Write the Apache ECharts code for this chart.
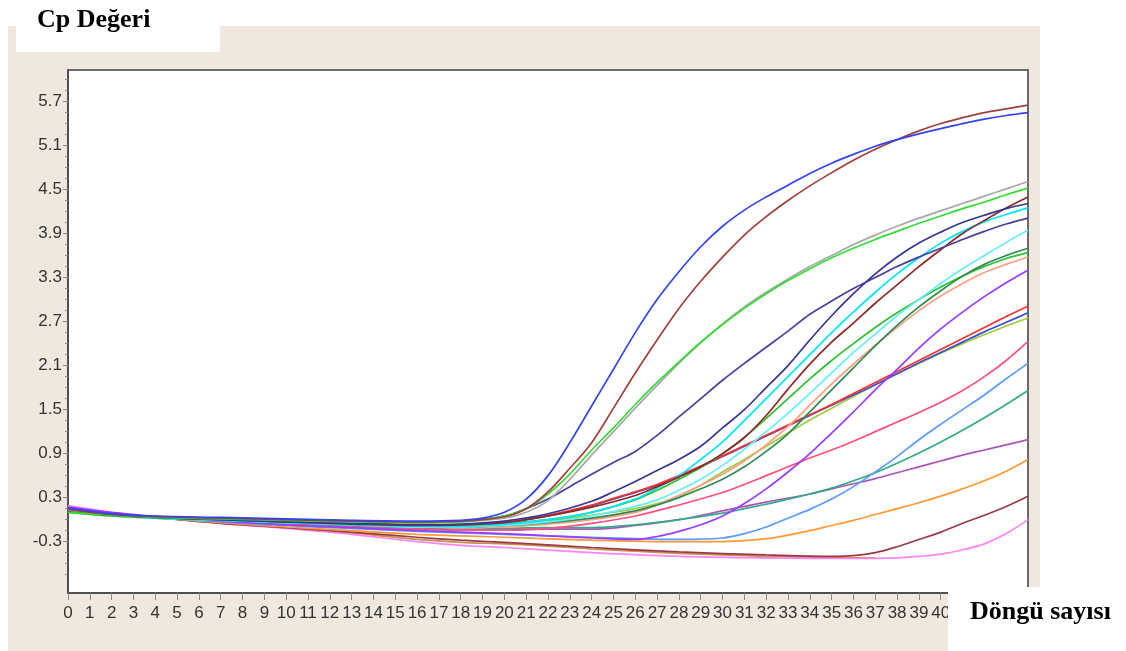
<!DOCTYPE html>
<html>
<head>
<meta charset="utf-8">
<script src="https://cdn.jsdelivr.net/npm/echarts@6/dist/echarts.min.js"></script>
<style>
  html, body { margin: 0; padding: 0; background: #ffffff; }
  #chart { width: 1126px; height: 651px; }
</style>
</head>
<body>
<div id="chart"></div>
<script>
// Amplification curves: fluorescence value per PCR cycle, one array of [cycle, value] per sample
const sampleBlue      = [[0,0.16],[2,0.08],[4,0.05],[7,0.03],[10,0.01],[13,-0.01],[16,-0.02],[18,-0.01],[19,0.02],[20,0.1],[21,0.28],[22,0.6],[23,1.05],[24,1.55],[25,2.05],[26,2.55],[27,3.0],[28,3.38],[29,3.72],[30,4.0],[31,4.22],[32,4.4],[33,4.56],[34,4.72],[35,4.86],[36,4.98],[37,5.09],[38,5.18],[39,5.26],[40,5.33],[41,5.4],[42,5.46],[43,5.51],[44,5.55]];
const sampleBrown     = [[0,0.14],[2,0.07],[4,0.04],[7,0.02],[10,0.0],[13,-0.02],[16,-0.03],[18,-0.02],[20,0.04],[21,0.15],[22,0.38],[23,0.7],[24,1.05],[25,1.52],[26,2.0],[27,2.45],[28,2.88],[29,3.25],[30,3.58],[31,3.88],[32,4.13],[33,4.35],[34,4.55],[35,4.73],[36,4.9],[37,5.05],[38,5.18],[39,5.3],[40,5.4],[41,5.48],[42,5.55],[43,5.6],[44,5.65]];
const sampleGray      = [[0,0.13],[2,0.07],[4,0.04],[7,0.02],[10,0.0],[13,-0.02],[16,-0.04],[18,-0.03],[20,0.02],[21,0.1],[22,0.26],[23,0.55],[24,0.88],[25,1.2],[26,1.52],[27,1.83],[28,2.13],[29,2.41],[30,2.67],[31,2.9],[32,3.1],[33,3.28],[34,3.45],[35,3.6],[36,3.75],[37,3.88],[38,4.0],[39,4.11],[40,4.21],[41,4.31],[42,4.41],[43,4.51],[44,4.61]];
const sampleLime      = [[0,0.1],[2,0.06],[4,0.03],[7,0.01],[10,-0.01],[13,-0.03],[16,-0.04],[18,-0.03],[20,0.05],[21,0.15],[22,0.35],[23,0.62],[24,0.95],[25,1.25],[26,1.57],[27,1.87],[28,2.15],[29,2.42],[30,2.66],[31,2.88],[32,3.08],[33,3.26],[34,3.42],[35,3.57],[36,3.7],[37,3.82],[38,3.93],[39,4.04],[40,4.14],[41,4.24],[42,4.33],[43,4.43],[44,4.52]];
const sampleSlate     = [[0,0.14],[2,0.08],[4,0.04],[7,0.02],[10,0.0],[13,-0.02],[16,-0.04],[18,-0.02],[20,0.05],[21,0.15],[22,0.28],[23,0.45],[24,0.62],[25,0.78],[26,0.93],[27,1.15],[28,1.4],[29,1.65],[30,1.9],[31,2.13],[32,2.35],[33,2.57],[34,2.8],[35,2.98],[36,3.15],[37,3.3],[38,3.45],[39,3.58],[40,3.7],[41,3.82],[42,3.93],[43,4.03],[44,4.11]];
const sampleNavy      = [[0,0.12],[2,0.06],[4,0.03],[7,0.0],[10,-0.03],[13,-0.05],[16,-0.07],[18,-0.06],[20,-0.02],[22,0.08],[24,0.25],[25,0.38],[26,0.52],[27,0.67],[28,0.82],[29,1.0],[30,1.25],[31,1.5],[32,1.8],[33,2.1],[34,2.45],[35,2.78],[36,3.08],[37,3.35],[38,3.58],[39,3.77],[40,3.92],[41,4.05],[42,4.15],[43,4.24],[44,4.31]];
const sampleDarkRed   = [[0,0.12],[2,0.06],[4,0.03],[7,0.0],[10,-0.03],[13,-0.06],[16,-0.08],[18,-0.07],[20,-0.04],[22,0.05],[24,0.17],[26,0.33],[27,0.45],[28,0.58],[29,0.72],[30,0.9],[31,1.12],[32,1.42],[33,1.78],[34,2.12],[35,2.42],[36,2.68],[37,2.95],[38,3.2],[39,3.45],[40,3.68],[41,3.9],[42,4.08],[43,4.25],[44,4.4]];
const sampleCyan      = [[0,0.11],[2,0.06],[4,0.02],[7,-0.01],[10,-0.04],[13,-0.07],[16,-0.09],[18,-0.09],[20,-0.06],[22,0.0],[24,0.1],[26,0.28],[27,0.43],[28,0.6],[29,0.82],[30,1.06],[31,1.35],[32,1.65],[33,1.95],[34,2.25],[35,2.55],[36,2.83],[37,3.1],[38,3.35],[39,3.57],[40,3.77],[41,3.93],[42,4.06],[43,4.16],[44,4.25]];
const sampleLightCyan = [[0,0.12],[2,0.06],[4,0.02],[7,-0.01],[10,-0.04],[13,-0.07],[16,-0.1],[18,-0.1],[20,-0.08],[22,-0.03],[24,0.05],[26,0.18],[27,0.27],[28,0.4],[29,0.55],[30,0.74],[31,0.96],[32,1.2],[33,1.45],[34,1.72],[35,2.0],[36,2.28],[37,2.53],[38,2.78],[39,3.0],[40,3.22],[41,3.42],[42,3.6],[43,3.78],[44,3.95]];
const sampleSeaGreen  = [[0,0.12],[2,0.07],[4,0.03],[7,0.0],[10,-0.04],[13,-0.07],[16,-0.09],[18,-0.1],[20,-0.08],[22,-0.04],[24,0.02],[26,0.12],[27,0.2],[28,0.3],[29,0.42],[30,0.55],[31,0.72],[32,0.93],[33,1.17],[34,1.47],[35,1.77],[36,2.07],[37,2.37],[38,2.65],[39,2.9],[40,3.12],[41,3.32],[42,3.48],[43,3.6],[44,3.7]];
const sampleGreen     = [[0,0.1],[2,0.05],[4,0.02],[7,0.0],[10,-0.03],[13,-0.06],[16,-0.08],[18,-0.08],[20,-0.05],[22,0.0],[24,0.1],[26,0.27],[27,0.4],[28,0.55],[29,0.71],[30,0.9],[31,1.12],[32,1.38],[33,1.65],[34,1.92],[35,2.17],[36,2.4],[37,2.62],[38,2.82],[39,3.0],[40,3.17],[41,3.32],[42,3.45],[43,3.56],[44,3.64]];
const sampleSalmon    = [[0,0.13],[2,0.07],[4,0.03],[7,0.0],[10,-0.04],[13,-0.07],[16,-0.1],[18,-0.11],[20,-0.1],[22,-0.06],[24,0.0],[26,0.1],[27,0.2],[28,0.33],[29,0.47],[30,0.62],[31,0.8],[32,1.02],[33,1.27],[34,1.56],[35,1.85],[36,2.12],[37,2.38],[38,2.62],[39,2.85],[40,3.05],[41,3.22],[42,3.37],[43,3.48],[44,3.58]];
const sampleViolet    = [[0,0.17],[2,0.1],[4,0.04],[7,-0.02],[10,-0.07],[13,-0.11],[16,-0.15],[18,-0.17],[20,-0.19],[22,-0.22],[24,-0.25],[26,-0.27],[27,-0.23],[28,-0.16],[29,-0.07],[30,0.05],[31,0.22],[32,0.42],[33,0.65],[34,0.9],[35,1.18],[36,1.47],[37,1.77],[38,2.05],[39,2.34],[40,2.6],[41,2.83],[42,3.04],[43,3.23],[44,3.4]];
const sampleRed       = [[0,0.12],[2,0.06],[4,0.03],[7,0.0],[10,-0.03],[13,-0.06],[16,-0.08],[18,-0.07],[20,-0.04],[22,0.06],[24,0.2],[25,0.29],[26,0.38],[27,0.48],[28,0.6],[29,0.73],[30,0.87],[31,1.01],[32,1.15],[33,1.29],[34,1.43],[35,1.57],[36,1.72],[37,1.87],[38,2.02],[39,2.17],[40,2.32],[41,2.47],[42,2.62],[43,2.77],[44,2.91]];
const sampleRoyal     = [[0,0.13],[2,0.07],[4,0.03],[7,0.0],[10,-0.03],[13,-0.05],[16,-0.07],[18,-0.07],[20,-0.04],[22,0.05],[24,0.19],[25,0.28],[26,0.37],[27,0.47],[28,0.59],[29,0.72],[30,0.86],[31,1.0],[32,1.14],[33,1.28],[34,1.42],[35,1.56],[36,1.7],[37,1.84],[38,1.99],[39,2.14],[40,2.28],[41,2.42],[42,2.56],[43,2.69],[44,2.82]];
const sampleYellowGrn = [[0,0.11],[2,0.05],[4,0.02],[7,-0.01],[10,-0.04],[13,-0.07],[16,-0.09],[18,-0.09],[20,-0.07],[22,-0.02],[24,0.06],[26,0.15],[27,0.22],[28,0.32],[29,0.47],[30,0.65],[31,0.82],[32,1.0],[33,1.18],[34,1.36],[35,1.52],[36,1.68],[37,1.84],[38,1.99],[39,2.13],[40,2.27],[41,2.4],[42,2.52],[43,2.64],[44,2.75]];
const sampleHotPink   = [[0,0.15],[2,0.08],[4,0.03],[7,-0.02],[10,-0.06],[13,-0.1],[16,-0.13],[18,-0.14],[20,-0.14],[22,-0.12],[24,-0.05],[26,0.05],[28,0.2],[30,0.37],[31,0.48],[32,0.6],[33,0.72],[34,0.84],[35,0.95],[36,1.07],[37,1.2],[38,1.33],[39,1.46],[40,1.6],[41,1.76],[42,1.95],[43,2.17],[44,2.43]];
const sampleCornflower= [[0,0.15],[2,0.08],[4,0.03],[7,-0.03],[10,-0.08],[13,-0.12],[16,-0.16],[18,-0.18],[20,-0.2],[24,-0.24],[28,-0.27],[30,-0.25],[31,-0.19],[32,-0.1],[33,0.02],[34,0.14],[35,0.28],[36,0.45],[37,0.65],[38,0.86],[39,1.09],[40,1.3],[41,1.5],[42,1.7],[43,1.92],[44,2.13]];
const sampleTeal      = [[0,0.14],[2,0.08],[4,0.03],[7,-0.02],[10,-0.06],[13,-0.09],[16,-0.12],[18,-0.13],[20,-0.12],[22,-0.11],[24,-0.11],[26,-0.07],[28,0.0],[30,0.09],[31,0.15],[32,0.21],[33,0.28],[34,0.35],[35,0.43],[36,0.53],[37,0.64],[38,0.77],[39,0.91],[40,1.06],[41,1.22],[42,1.39],[43,1.57],[44,1.76]];
const samplePurple    = [[0,0.16],[2,0.09],[4,0.04],[7,-0.02],[10,-0.06],[13,-0.1],[16,-0.13],[18,-0.14],[20,-0.14],[22,-0.13],[24,-0.13],[26,-0.08],[28,0.0],[30,0.12],[32,0.24],[34,0.35],[35,0.42],[36,0.49],[37,0.56],[38,0.64],[39,0.72],[40,0.8],[41,0.88],[42,0.95],[43,1.02],[44,1.09]];
const sampleOrange    = [[0,0.17],[2,0.09],[4,0.03],[7,-0.04],[10,-0.1],[13,-0.15],[16,-0.2],[18,-0.22],[20,-0.24],[24,-0.28],[28,-0.3],[30,-0.3],[32,-0.26],[33,-0.21],[34,-0.15],[35,-0.08],[36,-0.01],[37,0.07],[38,0.15],[39,0.23],[40,0.32],[41,0.42],[42,0.53],[43,0.66],[44,0.82]];
const sampleMaroon    = [[0,0.16],[2,0.09],[4,0.03],[7,-0.05],[10,-0.11],[13,-0.17],[16,-0.24],[18,-0.28],[20,-0.31],[24,-0.38],[28,-0.44],[32,-0.48],[35,-0.5],[36,-0.49],[37,-0.45],[38,-0.37],[39,-0.27],[40,-0.17],[41,-0.05],[42,0.06],[43,0.18],[44,0.32]];
const sampleMagenta   = [[0,0.19],[2,0.1],[4,0.03],[7,-0.05],[10,-0.12],[13,-0.2],[16,-0.3],[18,-0.35],[20,-0.38],[24,-0.45],[28,-0.5],[32,-0.52],[36,-0.53],[38,-0.52],[39,-0.5],[40,-0.47],[41,-0.41],[42,-0.33],[43,-0.19],[44,0.0]];
const sampleTan       = [[0,0.17],[2,0.09],[4,0.03],[7,-0.04],[10,-0.11],[13,-0.18],[16,-0.27],[18,-0.31],[20,-0.33],[22,-0.36],[24,-0.4],[26,-0.43],[28,-0.46],[30,-0.48],[32,-0.5],[34,-0.51],[36,-0.52],[37,-0.52]];

// Draw order (later ones sit on top) and line colours
const samples = [
  sampleTan, sampleMagenta, sampleMaroon, sampleOrange, samplePurple, sampleTeal, sampleCornflower,
  sampleHotPink, sampleYellowGrn, sampleRoyal, sampleRed, sampleViolet, sampleSalmon, sampleGreen,
  sampleSeaGreen, sampleLightCyan, sampleCyan, sampleDarkRed, sampleNavy, sampleSlate,
  sampleGray, sampleLime, sampleBrown, sampleBlue
];
const sampleColors = [
  '#c8904a', '#ff84f4', '#9a3a48', '#ff9933', '#ab55bb', '#33aa88', '#5b9bff',
  '#ff4f80', '#9fcc3c', '#3a50d0', '#ff3030', '#9a3cff', '#ffa080', '#2fc02f',
  '#2e8b57', '#66eeff', '#00e5ff', '#8b2a2a', '#363694', '#4a3f9f',
  '#a8a8a8', '#33dd33', '#a0403c', '#3344ee'
];

// Axis ticks and labels
const xTickCycles = [0,1,2,3,4,5,6,7,8,9,10,11,12,13,14,15,16,17,18,19,20,21,22,23,24,25,26,27,28,29,30,31,32,33,34,35,36,37,38,39,40];
const yTickValues = [-0.3, 0.3, 0.9, 1.5, 2.1, 2.7, 3.3, 3.9, 4.5, 5.1, 5.7];
const yAxisTitle = 'Cp Değeri';
const xAxisTitle = 'Döngü sayısı';

const Y_MIN = -1.0, Y_MAX = 6.13, X_MIN = 0, X_MAX = 44;

// minor ticks: three between each pair of labelled ticks
const yMinor = [];
for (let i = 0; i < yTickValues.length; i++) {
  for (let k = -3; k <= 3; k++) {
    if (k === 0) continue;
    const v = +(yTickValues[i] + k * 0.15).toFixed(2);
    if (v > Y_MIN && v < Y_MAX && yMinor.indexOf(v) < 0 && yTickValues.indexOf(v) < 0) yMinor.push(v);
  }
}

const chart = echarts.init(document.getElementById('chart'), null, { renderer: 'canvas' });

const labelFont = { fontFamily: 'Liberation Sans, Arial, sans-serif', fontSize: 17, color: '#333333' };

chart.setOption({
  animation: false,
  backgroundColor: '#ffffff',
  grid: {
    left: 68, top: 70, right: 98, bottom: 58,
    show: true, backgroundColor: '#ffffff', borderColor: '#6a6a6a', borderWidth: 2
  },
  xAxis: {
    type: 'value', min: X_MIN, max: X_MAX,
    axisLine: { show: true, onZero: false, lineStyle: { color: '#505050', width: 2 } },
    axisTick: { show: true, customValues: xTickCycles, length: 7, lineStyle: { color: '#8a8a8a', width: 1 } },
    axisLabel: { show: true, customValues: xTickCycles, margin: 12, ...labelFont, formatter: v => String(v) },
    splitLine: { show: false }
  },
  yAxis: [{
    type: 'value', min: Y_MIN, max: Y_MAX,
    axisLine: { show: true, onZero: false, lineStyle: { color: '#505050', width: 2 } },
    axisTick: { show: true, customValues: yTickValues, length: 5, lineStyle: { color: '#8a8a8a', width: 1 } },
    axisLabel: { show: true, customValues: yTickValues, margin: 6, ...labelFont, formatter: v => v.toFixed(1) },
    splitLine: { show: false }
  }, {
    type: 'value', min: Y_MIN, max: Y_MAX, position: 'left',
    axisLine: { show: false },
    axisTick: { show: true, customValues: yMinor, length: 3, lineStyle: { color: '#8a8a8a', width: 1 } },
    axisLabel: { show: false },
    splitLine: { show: false }
  }],
  graphic: [
    { type: 'rect', z: -10, silent: true, shape: { x: 8, y: 26, width: 1032, height: 625 }, style: { fill: '#efe8df' } },
    { type: 'rect', z: -9, silent: true, shape: { x: 16, y: 0, width: 204, height: 52 }, style: { fill: '#ffffff' } },
    { type: 'text', z: 10, left: 37, top: 7, style: { text: yAxisTitle, font: 'bold 26px "Liberation Serif", "Times New Roman", serif', fill: '#000000' } },
    { type: 'rect', z: 100, silent: true, shape: { x: 948, y: 587, width: 178, height: 64 }, style: { fill: '#ffffff' } },
    { type: 'text', z: 101, left: 970, top: 599, style: { text: xAxisTitle, font: 'bold 26px "Liberation Serif", "Times New Roman", serif', fill: '#000000' } }
  ],
  series: samples.map((d, i) => ({
    type: 'line',
    xAxisIndex: 0, yAxisIndex: 0,
    data: d,
    smooth: 0.35,
    showSymbol: false,
    symbol: 'none',
    clip: true,
    lineStyle: { color: sampleColors[i], width: 1.7 },
    emphasis: { disabled: true }
  }))
});
</script>
</body>
</html>
